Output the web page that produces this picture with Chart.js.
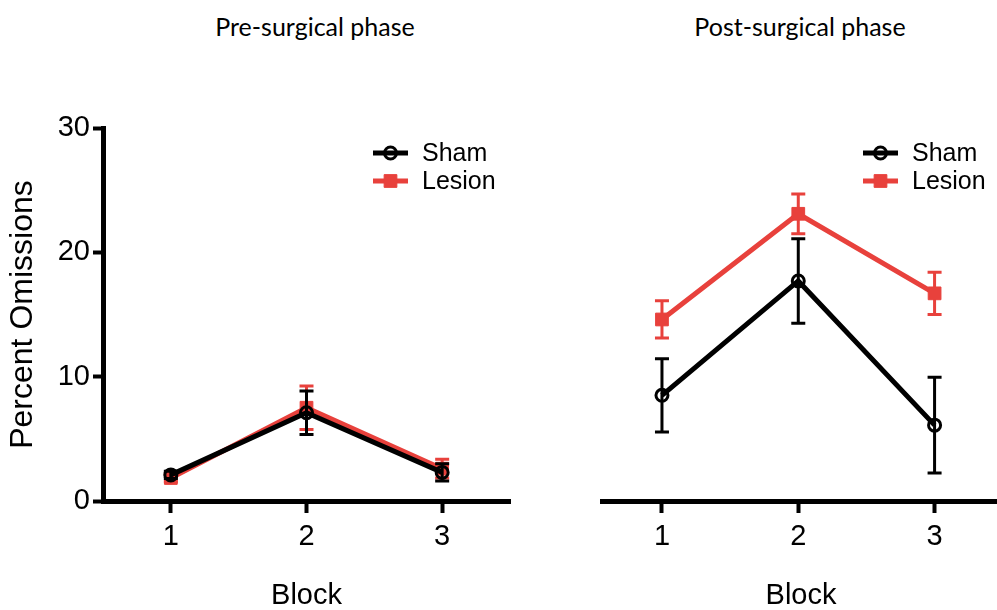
<!DOCTYPE html>
<html>
<head>
<meta charset="utf-8">
<script src="https://cdn.jsdelivr.net/npm/chart.js@4"></script>
<style>
    html, body { margin: 0; padding: 0; background: #fff; overflow: hidden; }
    body { width: 997px; height: 610px; position: relative; }
    .panel { position: absolute; top: 0; height: 610px; }
    .title {
        position: absolute; top: 11px; width: 300px; text-align: center;
        font-family: "Lato", "Open Sans", sans-serif; font-size: 25px; color: #000;
    }
</style>
</head>
<body>

<div class="title" style="left:165px">Pre-surgical phase</div>
<div class="title" style="left:650px">Post-surgical phase</div>

<div class="panel" style="left:0;width:520px"><canvas id="preChart"></canvas></div>
<div class="panel" style="left:500px;width:510px"><canvas id="postChart"></canvas></div>

<script>
// =========================
// Data
// =========================

const blocks = [1, 2, 3];
const yTicks = [0, 10, 20, 30];

const preSham = [2.1, 7.1, 2.3];
const preShamErr = [0.3, 1.75, 0.7];
const preLesion = [1.85, 7.5, 2.6];
const preLesionErr = [0.3, 1.75, 0.75];

const postSham = [8.5, 17.7, 6.1];
const postShamErr = [2.95, 3.4, 3.85];
const postLesion = [14.6, 23.1, 16.7];
const postLesionErr = [1.5, 1.6, 1.7];

const RED = "#e8413c";
const SANS = "'Liberation Sans', Arial, sans-serif";

// =========================
// Error bars
// =========================

const errorBars = {
    id: "errorBars",
    beforeDatasetDraw(chart, args) {
        const ds = chart.data.datasets[args.index];
        if (!ds.errors) return;
        const ctx = chart.ctx;
        const xs = chart.scales.x;
        const ys = chart.scales.y;
        ctx.save();
        ctx.strokeStyle = ds.borderColor;
        ctx.lineWidth = 3;
        ds.data.forEach((p, i) => {
            const x = xs.getPixelForValue(p.x);
            const top = ys.getPixelForValue(p.y + ds.errors[i]);
            const bot = ys.getPixelForValue(p.y - ds.errors[i]);
            ctx.beginPath();
            ctx.moveTo(x, top);
            ctx.lineTo(x, bot);
            ctx.moveTo(x - 7, top);
            ctx.lineTo(x + 7, top);
            ctx.moveTo(x - 7, bot);
            ctx.lineTo(x + 7, bot);
            ctx.stroke();
        });
        ctx.restore();
    }
};

// =========================
// Legend (line + marker)
// =========================

const lineLegend = {
    id: "lineLegend",
    afterDraw(chart, args, opts) {
        const ctx = chart.ctx;
        ctx.save();
        chart.data.datasets.forEach((ds, i) => {
            const y = opts.y + i * 28;
            const x0 = opts.x;
            const x1 = opts.x + 35;
            ctx.strokeStyle = ds.borderColor;
            ctx.lineWidth = 5;
            ctx.beginPath();
            ctx.moveTo(x0, y);
            ctx.lineTo(x1, y);
            ctx.stroke();
            ctx.fillStyle = ds.pointBackgroundColor;
            ctx.strokeStyle = ds.borderColor;
            ctx.lineWidth = ds.pointBorderWidth;
            Chart.helpers.drawPoint(ctx, {
                pointStyle: ds.pointStyle,
                radius: ds.pointRadius,
                borderWidth: ds.pointBorderWidth
            }, (x0 + x1) / 2, y);
            ctx.fillStyle = "#000";
            ctx.font = "25px " + SANS;
            ctx.textBaseline = "middle";
            ctx.fillText(ds.label, x1 + 14, y + 1);
        });
        ctx.restore();
    }
};

function toPoints(values) {
    return values.map((v, i) => ({ x: blocks[i], y: v }));
}

function makeDatasets(sham, shamErr, lesion, lesionErr) {
    return [
        {
            label: "Sham",
            data: toPoints(sham),
            errors: shamErr,
            borderColor: "#000",
            borderWidth: 5,
            pointStyle: "circle",
            pointRadius: 6,
            pointBorderWidth: 3,
            pointBackgroundColor: "rgba(255,255,255,0)",
            pointBorderColor: "#000"
        },
        {
            label: "Lesion",
            data: toPoints(lesion),
            errors: lesionErr,
            borderColor: RED,
            borderWidth: 5,
            pointStyle: "rect",
            pointRadius: 9,
            pointBorderWidth: 1,
            pointBackgroundColor: RED,
            pointBorderColor: RED
        }
    ];
}

function makeChart(id, datasets, xMin, xMax, showY, pad, legendPos) {
    return new Chart(document.getElementById(id), {
        type: "line",
        data: { datasets: datasets },
        plugins: [errorBars, lineLegend],
        options: {
            responsive: true,
            maintainAspectRatio: false,
            animation: false,
            layout: { padding: pad },
            plugins: {
                legend: { display: false },
                tooltip: { enabled: false },
                lineLegend: legendPos
            },
            scales: {
                x: {
                    type: "linear",
                    min: xMin,
                    max: xMax,
                    afterBuildTicks: (s) => { s.ticks = blocks.map(v => ({ value: v })); },
                    afterFit: (s) => { s.height = 109; },
                    border: { display: true, color: "#000", width: 5 },
                    grid: {
                        drawOnChartArea: false,
                        tickLength: 12,
                        tickWidth: 4,
                        tickColor: "#000"
                    },
                    ticks: {
                        color: "#000",
                        padding: 7,
                        font: { family: SANS, size: 29 },
                        callback: (v) => String(v)
                    },
                    title: {
                        display: true,
                        text: "Block",
                        color: "#000",
                        padding: 0,
                        font: { family: SANS, size: 29, lineHeight: 1 }
                    }
                },
                y: {
                    display: showY,
                    min: 0,
                    max: 30,
                    afterBuildTicks: (s) => { s.ticks = yTicks.map(v => ({ value: v })); },
                    afterFit: (s) => { s.width = showY ? 103 : 0; },
                    border: { display: true, color: "#000", width: 5 },
                    grid: {
                        drawOnChartArea: false,
                        tickLength: 10,
                        tickWidth: 4,
                        tickColor: "#000"
                    },
                    ticks: {
                        color: "#000",
                        padding: 3,
                        font: { family: SANS, size: 29 }
                    },
                    title: {
                        display: true,
                        text: "Percent Omissions",
                        color: "#000",
                        padding: { top: 7, bottom: 0 },
                        font: { family: SANS, size: 32, lineHeight: 1 }
                    }
                }
            }
        }
    });
}

makeChart("preChart",
    makeDatasets(preSham, preShamErr, preLesion, preLesionErr),
    0.5, 3.5, true,
    { top: 128, right: 7, bottom: 0, left: 0 },
    { x: 373, y: 153 });

makeChart("postChart",
    makeDatasets(postSham, postShamErr, postLesion, postLesionErr),
    0.56, 3.48, false,
    { top: 128, right: 7, bottom: 0, left: 102 },
    { x: 363, y: 153 });
</script>
</body>
</html>
